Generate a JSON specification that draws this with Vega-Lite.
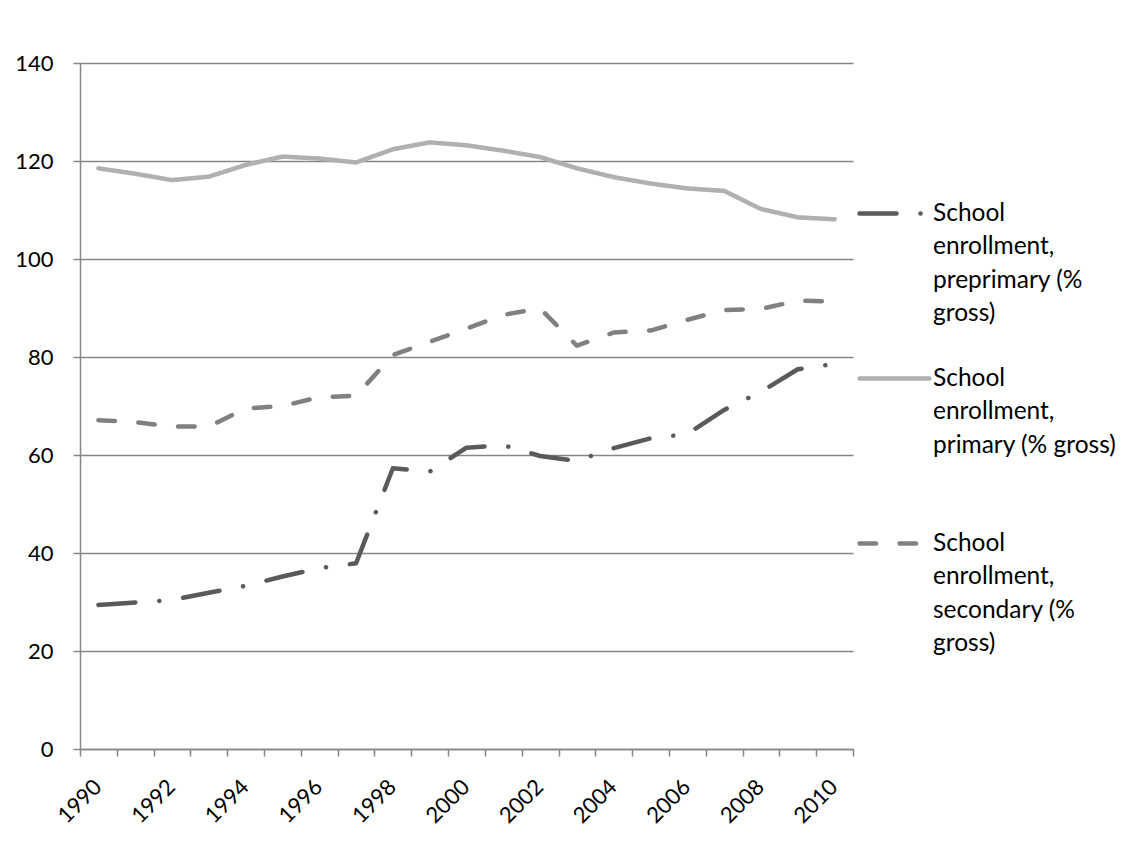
{
  "$schema": "https://vega.github.io/schema/vega-lite/v6.json",
  "width": 773,
  "height": 686,
  "autosize": {"type": "none"},
  "padding": {"left": 80, "top": 63, "right": 283, "bottom": 105},
  "background": "white",
  "config": {
    "view": {"stroke": null},
    "font": "Lato",
    "axis": {"labelFont": "Lato", "labelFontSize": 22, "labelColor": "#000000", "domainColor": "#868686", "tickColor": "#868686", "gridColor": "#868686", "domainWidth": 1.5, "tickWidth": 1.5, "gridWidth": 1.5}
  },
  "data": {
    "values": [
      {"series": "School enrollment, preprimary (% gross)", "year": 1990, "value": 29.4},
      {"series": "School enrollment, preprimary (% gross)", "year": 1991, "value": 29.9},
      {"series": "School enrollment, preprimary (% gross)", "year": 1992, "value": 30.4},
      {"series": "School enrollment, preprimary (% gross)", "year": 1993, "value": 31.9},
      {"series": "School enrollment, preprimary (% gross)", "year": 1994, "value": 33.3},
      {"series": "School enrollment, preprimary (% gross)", "year": 1995, "value": 35.2},
      {"series": "School enrollment, preprimary (% gross)", "year": 1996, "value": 36.9},
      {"series": "School enrollment, preprimary (% gross)", "year": 1997, "value": 37.9},
      {"series": "School enrollment, preprimary (% gross)", "year": 1998, "value": 57.3},
      {"series": "School enrollment, preprimary (% gross)", "year": 1999, "value": 56.6},
      {"series": "School enrollment, preprimary (% gross)", "year": 2000, "value": 61.5},
      {"series": "School enrollment, preprimary (% gross)", "year": 2001, "value": 62.0},
      {"series": "School enrollment, preprimary (% gross)", "year": 2002, "value": 59.8},
      {"series": "School enrollment, preprimary (% gross)", "year": 2003, "value": 58.8},
      {"series": "School enrollment, preprimary (% gross)", "year": 2004, "value": 61.4},
      {"series": "School enrollment, preprimary (% gross)", "year": 2005, "value": 63.4},
      {"series": "School enrollment, preprimary (% gross)", "year": 2006, "value": 64.3},
      {"series": "School enrollment, preprimary (% gross)", "year": 2007, "value": 69.2},
      {"series": "School enrollment, preprimary (% gross)", "year": 2008, "value": 72.9},
      {"series": "School enrollment, preprimary (% gross)", "year": 2009, "value": 77.5},
      {"series": "School enrollment, preprimary (% gross)", "year": 2010, "value": 78.6},
      {"series": "School enrollment, primary (% gross)", "year": 1990, "value": 118.5},
      {"series": "School enrollment, primary (% gross)", "year": 1991, "value": 117.4},
      {"series": "School enrollment, primary (% gross)", "year": 1992, "value": 116.1},
      {"series": "School enrollment, primary (% gross)", "year": 1993, "value": 116.8},
      {"series": "School enrollment, primary (% gross)", "year": 1994, "value": 119.2},
      {"series": "School enrollment, primary (% gross)", "year": 1995, "value": 120.9},
      {"series": "School enrollment, primary (% gross)", "year": 1996, "value": 120.5},
      {"series": "School enrollment, primary (% gross)", "year": 1997, "value": 119.7},
      {"series": "School enrollment, primary (% gross)", "year": 1998, "value": 122.4},
      {"series": "School enrollment, primary (% gross)", "year": 1999, "value": 123.8},
      {"series": "School enrollment, primary (% gross)", "year": 2000, "value": 123.2},
      {"series": "School enrollment, primary (% gross)", "year": 2001, "value": 122.1},
      {"series": "School enrollment, primary (% gross)", "year": 2002, "value": 120.8},
      {"series": "School enrollment, primary (% gross)", "year": 2003, "value": 118.5},
      {"series": "School enrollment, primary (% gross)", "year": 2004, "value": 116.7},
      {"series": "School enrollment, primary (% gross)", "year": 2005, "value": 115.4},
      {"series": "School enrollment, primary (% gross)", "year": 2006, "value": 114.4},
      {"series": "School enrollment, primary (% gross)", "year": 2007, "value": 113.9},
      {"series": "School enrollment, primary (% gross)", "year": 2008, "value": 110.2},
      {"series": "School enrollment, primary (% gross)", "year": 2009, "value": 108.5},
      {"series": "School enrollment, primary (% gross)", "year": 2010, "value": 108.1},
      {"series": "School enrollment, secondary (% gross)", "year": 1990, "value": 67.1},
      {"series": "School enrollment, secondary (% gross)", "year": 1991, "value": 66.7},
      {"series": "School enrollment, secondary (% gross)", "year": 1992, "value": 65.8},
      {"series": "School enrollment, secondary (% gross)", "year": 1993, "value": 65.8},
      {"series": "School enrollment, secondary (% gross)", "year": 1994, "value": 69.5},
      {"series": "School enrollment, secondary (% gross)", "year": 1995, "value": 70.0},
      {"series": "School enrollment, secondary (% gross)", "year": 1996, "value": 71.8},
      {"series": "School enrollment, secondary (% gross)", "year": 1997, "value": 72.1},
      {"series": "School enrollment, secondary (% gross)", "year": 1998, "value": 80.4},
      {"series": "School enrollment, secondary (% gross)", "year": 1999, "value": 83.1},
      {"series": "School enrollment, secondary (% gross)", "year": 2000, "value": 85.8},
      {"series": "School enrollment, secondary (% gross)", "year": 2001, "value": 88.6},
      {"series": "School enrollment, secondary (% gross)", "year": 2002, "value": 89.9},
      {"series": "School enrollment, secondary (% gross)", "year": 2003, "value": 82.3},
      {"series": "School enrollment, secondary (% gross)", "year": 2004, "value": 85.0},
      {"series": "School enrollment, secondary (% gross)", "year": 2005, "value": 85.4},
      {"series": "School enrollment, secondary (% gross)", "year": 2006, "value": 87.6},
      {"series": "School enrollment, secondary (% gross)", "year": 2007, "value": 89.6},
      {"series": "School enrollment, secondary (% gross)", "year": 2008, "value": 89.8},
      {"series": "School enrollment, secondary (% gross)", "year": 2009, "value": 91.5},
      {"series": "School enrollment, secondary (% gross)", "year": 2010, "value": 91.3}
    ]
  },
  "mark": {"type": "line", "strokeWidth": 4.5, "strokeCap": "round", "strokeJoin": "round"},
  "encoding": {
    "x": {
      "field": "year",
      "type": "quantitative",
      "scale": {"domain": [1989.5, 2010.5], "nice": false, "zero": false},
      "axis": {
        "title": null,
        "grid": false,
        "values": [1989.5, 1990.5, 1991.5, 1992.5, 1993.5, 1994.5, 1995.5, 1996.5, 1997.5, 1998.5, 1999.5, 2000.5, 2001.5, 2002.5, 2003.5, 2004.5, 2005.5, 2006.5, 2007.5, 2008.5, 2009.5, 2010.5],
        "labelExpr": "(datum.value + 0.5) % 2 == 0 ? format(datum.value + 0.5, 'd') : ''",
        "labelAngle": -45,
        "labelAlign": "right",
        "labelBaseline": "middle",
        "labelOffset": 17.5,
        "labelPadding": 27,
        "labelOverlap": false,
        "labelFlush": false,
        "labelBound": false,
        "tickSize": 7
      }
    },
    "y": {
      "field": "value",
      "type": "quantitative",
      "scale": {"domain": [0, 140], "nice": false},
      "axis": {
        "title": null,
        "values": [0, 20, 40, 60, 80, 100, 120, 140],
        "grid": true,
        "tickSize": 7,
        "labelPadding": 20
      }
    },
    "color": {
      "field": "series",
      "type": "nominal",
      "scale": {
        "domain": ["School enrollment, preprimary (% gross)", "School enrollment, primary (% gross)", "School enrollment, secondary (% gross)"],
        "range": ["#5a5a5a", "#b0b0b0", "#808080"]
      },
      "legend": {
        "orient": "none",
        "legendX": 777,
        "legendY": 113,
        "title": null,
        "symbolType": "stroke",
        "symbolSize": 4900,
        "symbolStrokeWidth": 4.5,
        "labelFont": "Lato",
        "labelFontSize": 24.5,
        "labelColor": "#000000",
        "labelOffset": 1,
        "labelLimit": 400,
        "rowPadding": 15,
        "labelExpr": "datum.label == 'School enrollment, preprimary (% gross)' ? ['School', 'enrollment,', 'preprimary (%', 'gross)'] : datum.label == 'School enrollment, primary (% gross)' ? ['School', 'enrollment,', 'primary (% gross)', ''] : ['School', 'enrollment,', 'secondary (%', 'gross)']",
        "encode": {
          "labels": {"update": {"lineHeight": {"value": 33.5}}},
          "symbols": {"update": {"strokeCap": {"value": "round"}}}
        }
      }
    },
    "strokeDash": {
      "field": "series",
      "type": "nominal",
      "scale": {
        "domain": ["School enrollment, preprimary (% gross)", "School enrollment, primary (% gross)", "School enrollment, secondary (% gross)"],
        "range": [[37, 24, 0.1, 24], [1, 0], [16.5, 23.5]]
      },
      "legend": {
        "orient": "none",
        "legendX": 777,
        "legendY": 113,
        "title": null,
        "symbolType": "stroke",
        "symbolSize": 4900,
        "symbolStrokeWidth": 4.5,
        "labelFont": "Lato",
        "labelFontSize": 24.5,
        "labelColor": "#000000",
        "labelOffset": 1,
        "labelLimit": 400,
        "rowPadding": 15,
        "labelExpr": "datum.label == 'School enrollment, preprimary (% gross)' ? ['School', 'enrollment,', 'preprimary (%', 'gross)'] : datum.label == 'School enrollment, primary (% gross)' ? ['School', 'enrollment,', 'primary (% gross)', ''] : ['School', 'enrollment,', 'secondary (%', 'gross)']",
        "encode": {
          "labels": {"update": {"lineHeight": {"value": 33.5}}},
          "symbols": {"update": {"strokeCap": {"value": "round"}}}
        }
      }
    }
  }
}
